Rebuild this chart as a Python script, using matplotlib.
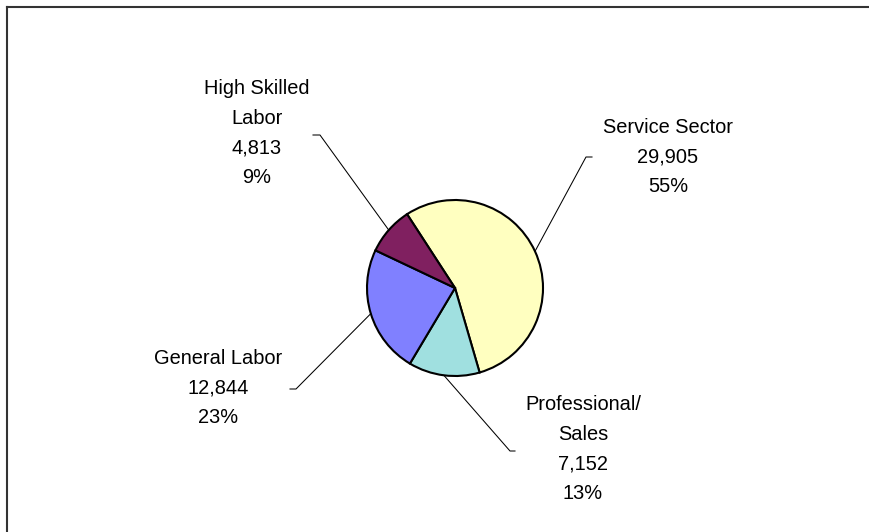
import numpy as np
import matplotlib.pyplot as plt

# Labour categories and their counts
categories = ["Service Sector", "Professional/\nSales", "General Labor", "High Skilled\nLabor"]
counts = [29905, 7152, 12844, 4813]
colors = ["#FFFFC0", "#A0E0E0", "#8080FF", "#802060"]

W, H = 870, 532
plt.rcParams['font.family'] = ['Liberation Sans', 'DejaVu Sans']

fig = plt.figure(figsize=(W / 100, H / 100), dpi=100)
ax = fig.add_axes([0, 0, 1, 1])

cx, cy, r = 455, H - 288, 88
start = 123
wedges, _ = ax.pie(counts, colors=colors, startangle=start, counterclock=False,
                   center=(cx, cy), radius=r, frame=True,
                   wedgeprops=dict(edgecolor='black', linewidth=1.5))
ax.set_xlim(0, W)
ax.set_ylim(0, H)
ax.set_aspect('equal')
ax.axis('off')

# label block centre and leader elbow/end, in pixels from top-left
label_pos = [(668, 157), (583, 449), (218, 388), (257, 133)]
elbows = [((586, 157), (592, 157)), ((510, 451), (515, 451)),
          ((296, 389), (290, 389)), ((320, 135), (313, 135))]

total = sum(counts)
for w, name, n, (lx, ly), (e1, e2) in zip(wedges, categories, counts, label_pos, elbows):
    pct = round(100 * n / total)
    txt = f"{name}\n{n:,}\n{pct}%"
    ax.text(lx, H - ly, txt, ha='center', va='center', fontsize=14.4,
            linespacing=1.72)
    mid = np.deg2rad((w.theta1 + w.theta2) / 2)
    x0, y0 = cx + r * np.cos(mid), cy + r * np.sin(mid)
    ax.plot([x0, e1[0], e2[0]], [y0, H - e1[1], H - e2[1]],
            color='black', linewidth=0.75)

# chart area border (left and top edges visible)
fig.add_artist(plt.Line2D([7.5 / W, 7.5 / W], [0, 1 - 6.5 / H], color='#333333', linewidth=1.5))
fig.add_artist(plt.Line2D([7.5 / W, 1], [1 - 6.5 / H, 1 - 6.5 / H], color='#333333', linewidth=1.5))

fig.savefig("out.png", dpi=100)
